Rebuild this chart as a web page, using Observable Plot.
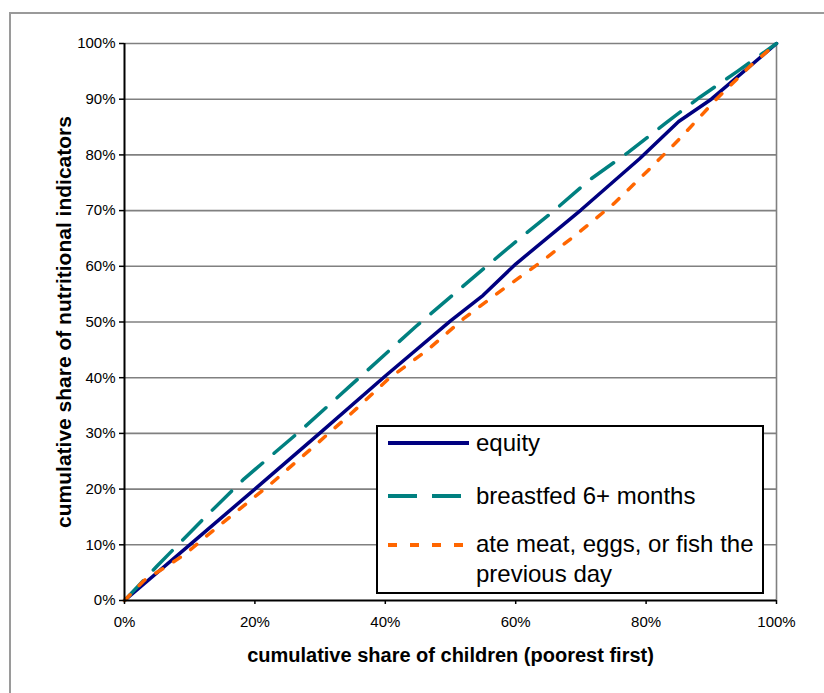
<!DOCTYPE html>
<html>
<head>
<meta charset="utf-8">
<script src="https://cdn.jsdelivr.net/npm/d3@7"></script>
<script src="https://cdn.jsdelivr.net/npm/@observablehq/plot@0.6"></script>
<style>
  html, body { margin: 0; padding: 0; background: #fff; overflow: hidden; width: 824px; height: 693px; }
  #frame { position: absolute; left: 9px; top: 12px; width: 900px; height: 800px; border: 2px solid #9a9a9a; box-sizing: border-box; }
  #chart { position: absolute; left: 0; top: 0; }
  #legend { position: absolute; left: 376px; top: 425px; }
</style>
</head>
<body>
<div id="frame"></div>
<div id="chart"></div>
<div id="legend"></div>
<script>
// ---- data (percent) ----
const seriesNames = ["equity", "breastfed 6+ months", "ate meat, eggs, or fish the previous day"];
const equityX = [0, 10, 20, 30, 40, 50, 55, 60, 70, 79, 85, 90, 100];
const equityY = [0, 10, 20, 30.1, 40.3, 50.2, 54.8, 60.4, 70.1, 79.3, 86.0, 90.0, 100];
const breastX = [0, 5, 12.4, 18.3, 27, 34.4, 44.6, 55, 60.2, 65.6, 71.2, 77.3, 83, 88.3, 94, 100];
const breastY = [0, 6.2, 15.0, 21.8, 30.5, 38.3, 49.1, 59.5, 64.6, 69.7, 75.4, 80.5, 85.7, 90.4, 95.0, 100];
const meatX = [0, 3, 6.3, 9.4, 12.4, 16.8, 22.4, 28.3, 34.7, 40.5, 46.4, 52, 57.6, 63.8, 69.4, 75, 80.3, 85.4, 90.6, 96, 100];
const meatY = [0, 3.6, 6.0, 8.4, 11.4, 15.6, 20.9, 26.9, 33.5, 39.8, 44.9, 50.6, 55.5, 60.7, 65.8, 71.2, 77.2, 83.2, 89.8, 96.0, 100];
const xTicks = [0, 20, 40, 60, 80, 100];
const yTicks = [0, 10, 20, 30, 40, 50, 60, 70, 80, 90, 100];
const xTitle = "cumulative share of children (poorest first)";
const yTitle = "cumulative share of nutritional indicators";
const colors = ["#000080", "#008080", "#FF6600"];
const dashes = [null, "27,15", "8,13"];

const toRows = (xs, ys, s) => xs.map((x, i) => ({x: x / 100, y: ys[i] / 100, s}));
const equity = toRows(equityX, equityY, seriesNames[0]);
const breast = toRows(breastX, breastY, seriesNames[1]);
const meat = toRows(meatX, meatY, seriesNames[2]);
const pct = d3.format(".0%");

const chart = Plot.plot({
  width: 824,
  height: 693,
  marginLeft: 124,
  marginTop: 43,
  marginRight: 48,
  marginBottom: 93,
  x: {domain: [0, 1]},
  y: {domain: [0, 1]},
  style: {fontFamily: "'Liberation Sans', Arial, sans-serif", fontSize: "15px", background: "transparent", color: "#000"},
  marks: [
    Plot.ruleY(yTicks.filter(d => d > 0).map(d => d / 100), {stroke: "#808080", strokeWidth: 1.6}),
    Plot.ruleX([1], {stroke: "#808080", strokeWidth: 1.6}),
    Plot.line(equity, {x: "x", y: "y", stroke: colors[0], strokeWidth: 3.5}),
    Plot.line(breast, {x: "x", y: "y", stroke: colors[1], strokeWidth: 3.5, strokeDasharray: dashes[1]}),
    Plot.line(meat, {x: "x", y: "y", stroke: colors[2], strokeWidth: 3.5, strokeDasharray: dashes[2]}),
    Plot.ruleX([0], {stroke: "#000", strokeWidth: 2}),
    Plot.ruleY([0], {stroke: "#000", strokeWidth: 2}),
    Plot.axisX({ticks: xTicks.map(d => d / 100), tickFormat: pct, tickSize: 4, tickPadding: 12, label: null, strokeWidth: 1.5, fontSize: 15}),
    Plot.axisY({ticks: yTicks.map(d => d / 100), tickFormat: pct, tickSize: 5, tickPadding: 4, label: null, strokeWidth: 1.5, fontSize: 15}),
    Plot.text([xTitle], {frameAnchor: "bottom", dy: 61, lineAnchor: "bottom", textAnchor: "middle", text: d => d, fontSize: 20, fontWeight: "bold"}),
    Plot.text([yTitle], {frameAnchor: "left", dx: -54, lineAnchor: "bottom", textAnchor: "middle", rotate: -90, text: d => d, fontSize: 21, fontWeight: "bold"})
  ]
});
document.getElementById("chart").appendChild(chart);

// ---- legend ----
const lw = 388, lh = 169;
const legendRows = [
  {lines: ["equity"], y: 18, base: [26]},
  {lines: ["breastfed 6+ months"], y: 71, base: [79]},
  {lines: ["ate meat, eggs, or fish the", "previous day"], y: 120, base: [127, 157]}
];
const lsvg = d3.select("#legend").append("svg").attr("width", lw).attr("height", lh)
  .style("font-family", "'Liberation Sans', Arial, sans-serif");
lsvg.append("rect").attr("x", 1).attr("y", 1).attr("width", lw - 2).attr("height", lh - 2)
  .attr("fill", "#fff").attr("stroke", "#000").attr("stroke-width", 2);
legendRows.forEach((r, i) => {
  lsvg.append("line").attr("x1", 12).attr("x2", 93).attr("y1", r.y).attr("y2", r.y)
    .attr("stroke", colors[i]).attr("stroke-width", 4)
    .attr("stroke-dasharray", dashes[i] ? (i === 1 ? "29,15" : "9,13") : null);
  r.lines.forEach((t, j) => {
    lsvg.append("text").attr("x", 100).attr("y", r.base[j]).attr("font-size", 24).text(t);
  });
});
</script>
</body>
</html>
